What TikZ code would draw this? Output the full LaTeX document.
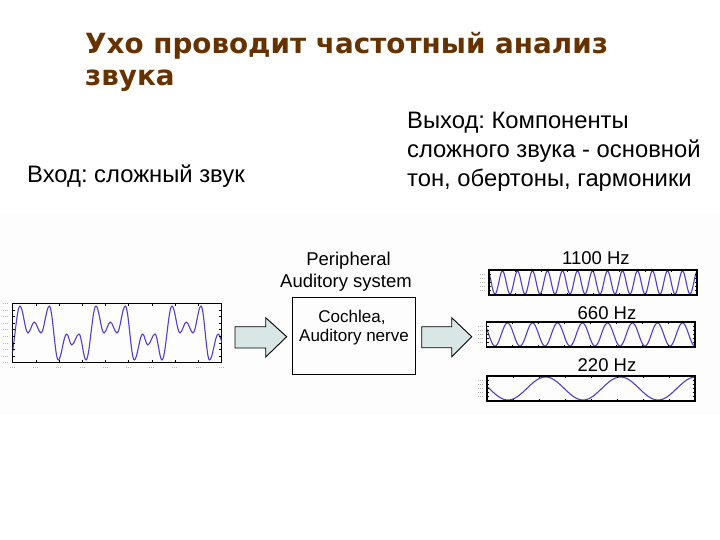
\documentclass[tikz,border=0pt]{standalone}
\usepackage{fontspec}
\setmainfont{Liberation Sans}
\newfontfamily\titlefont{DejaVu Sans}
\usetikzlibrary{fit}
\frenchspacing
\definecolor{titlebrown}{RGB}{102,51,0}
\definecolor{wavecol}{RGB}{85,60,205}
\definecolor{arrowfill}{RGB}{216,230,229}
\definecolor{bandcol}{RGB}{253,253,253}
\definecolor{labgray}{RGB}{185,185,185}
\begin{document}
\begin{tikzpicture}[x=1pt,y=-1pt,
  titletext/.style={font=\titlefont\bfseries\fontsize{27.8}{32}\selectfont, text=titlebrown, inner sep=0pt, anchor=base west},
  bodytext/.style={font=\fontsize{23.8}{28}\selectfont, inner sep=0pt, anchor=base west},
  lbl/.style={font=\fontsize{18.5}{22}\selectfont, inner sep=0pt, anchor=base},
  boxtext/.style={font=\fontsize{17}{20}\selectfont, inner sep=0pt, anchor=base},
  frame/.style={draw=black, line width=1.1pt, inner sep=0pt},
  wave/.style={draw=wavecol, line width=1.1pt, line join=round},
  tick/.style={draw=black, line width=0.5pt},
  axlab/.style={draw=labgray, line width=0.8pt, dash pattern=on 1pt off 1pt},
  blockarrow/.style={draw=black, line width=0.9pt, fill=arrowfill, line join=miter},
  boxstyle/.style={draw=black, line width=1pt, inner sep=0pt}]
\useasboundingbox (0,0) rectangle (720,540);
\fill[white] (0,0) rectangle (720,540);
\fill[bandcol] (0,213) rectangle (720,415);

% title
\node[titletext] (t1) at (85,54) {Ухо проводит частотный анализ};
\node[titletext] (t2) at (85,86) {звука};

% texts
\node[bodytext] (in) at (27,183) {Вход: сложный звук};
\node[bodytext] (o1) at (407,129) {Выход: Компоненты};
\node[bodytext] (o2) at (407,158) {сложного звука - основной};
\node[bodytext] (o3) at (407,187) {тон, обертоны, гармоники};

% input frame
\node[frame, fit={(12.7,303.3) (221.7,362.7)}] (inframe) {};
\begin{scope}
\clip (12.7,303.3) rectangle (221.7,362.7);
\draw[wave] (10,360) \foreach \x/\y [remember=\x as \px (initially 10), remember=\y as \py (initially 360)] in
 {20/306, 28/333, 34.3/322, 41/333, 49.3/306, 58.3/360, 66.7/334, 71.7/345, 79/334, 86/360,
  96/306, 104/333, 110.3/322, 117/333, 125.3/306, 134.3/360, 142.7/334, 147.7/345, 155/334, 162/360,
  172/306, 180/333, 186.3/322, 193/333, 201/306, 209.5/360, 218.3/334, 223.7/345}
 { .. controls ({\px+0.36*(\x-\px)},\py) and ({\x-0.36*(\x-\px)},\y) .. (\x,\y) };
\end{scope}
\foreach \k in {0,...,9} {
  \draw[tick] (12.7,{303.3+\k*6.6}) -- ++(2.5,0);
  \draw[tick] (221.7,{303.3+\k*6.6}) -- ++(-2.5,0);
  \draw[axlab] (3,{303.3+\k*6.6}) -- ++(6,0);
  \draw[tick] ({12.7+\k*23.2},362.7) -- ++(0,-2.5);
  \draw[tick] ({12.7+\k*23.2},303.3) -- ++(0,2.5);
  \draw[axlab] ({10+\k*23.2},367) -- ++(6,0);
}

% central box
\node[boxstyle, fit={(292.5,297.5) (415,374.5)}] (box) {};
\node[boxtext] (c1) at (352,322) {Cochlea,};
\node[boxtext] (c2) at (354,341) {Auditory nerve};
\node[lbl] (per1) at (348.5,265) {Peripheral};
\node[lbl] (per2) at (346,287) {Auditory system};

% block arrows
\draw[blockarrow] (235,326.7) -- (265.7,326.7) -- (265.7,317.7) -- (286.7,336.7)
  -- (265.7,357) -- (265.7,348) -- (235,348) -- cycle;
\draw[blockarrow] (421.7,326.7) -- (451.7,326.7) -- (451.7,317.7) -- (471.7,336.7)
  -- (451.7,356.7) -- (451.7,347.7) -- (421.7,347.7) -- cycle;

% output panels
\foreach \n/\xa/\ya/\xb/\yb/\per/\tr in {p1/489/270/697/295/15/495, p2/486.5/322/695/347/25/495, p3/487/376/695/401/75/508} {
  \begin{scope}
    \clip (\xa,\ya) rectangle (\xb,\yb);
    \draw[wave] plot[domain=\xa:\xb, samples=300, variable=\t]
      (\t, {(\ya+\yb)/2 + ((\yb-\ya)/2-1)*cos((360/\per)*(\t-\tr))});
  \end{scope}
  \node[frame, fit={(\xa,\ya) (\xb,\yb)}] (\n) {};
  \foreach \j in {1,...,5} {
    \draw[tick] (\xa,{\ya+\j*4.1}) -- ++(2,0);
    \draw[tick] (\xb,{\ya+\j*4.1}) -- ++(-2,0);
    \draw[axlab] ({\xa-9},{\ya+\j*4.1}) -- ++(6,0);
  }
  \foreach \j in {1,...,7} {
    \draw[tick] ({\xa+\j*26},\ya) -- ++(0,2);
    \draw[tick] ({\xa+\j*26},\yb) -- ++(0,-2);
  }
}
\node[lbl] (h1) at (596,264) {1100 Hz};
\node[lbl] (h2) at (607,319) {660 Hz};
\node[lbl] (h3) at (607,371) {220 Hz};
\end{tikzpicture}
\end{document}
